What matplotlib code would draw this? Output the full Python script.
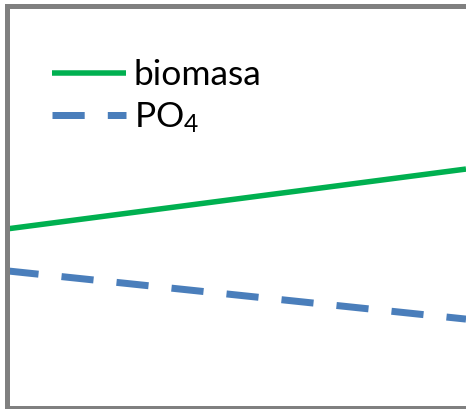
import numpy as np
import matplotlib.pyplot as plt

plt.rcParams['font.family'] = ['Lato', 'DejaVu Sans']
plt.rcParams['mathtext.default'] = 'regular'

# data
x = [0, 1]
biomasa = [44.5, 59.4]
po4 = [34.1, 22.1]

W, H = 466, 409
fig = plt.figure(figsize=(W / 100, H / 100), dpi=100)
extra = 30
aw = W - 6.5 + extra
ax = fig.add_axes([6.5 / W, (H - 408) / H, aw / W, (408 - 5.7) / H])

lw_g = 5.5 * 72 / 100
lw_b = 7 * 72 / 100
ax.plot(x, biomasa, color='#00B050', lw=lw_g, solid_capstyle='butt', label='biomasa')
ax.plot(x, po4, color='#4A7EBB', lw=lw_b, linestyle=(0, (4.6, 3.3)),
        dash_capstyle='butt', label='PO$_4$')

ax.set_xlim(0, 1 + extra / (W - 6.5))
ax.set_ylim(0, 100)
ax.set_xticks([])
ax.set_yticks([])

# frame: left spine, top and bottom edges stop at the picture edge
for s in ['top', 'bottom', 'right']:
    ax.spines[s].set_visible(False)
ax.spines['left'].set_color('#808080')
ax.spines['left'].set_linewidth(5 * 72 / 100)
x_end = (W - 6.5) / aw
for yy in (0, 1):
    ax.plot([0, x_end], [yy, yy], transform=ax.transAxes, color='#808080',
            lw=5 * 72 / 100, clip_on=False, solid_capstyle='butt')

fs = 25.5
fpx = fs * 100 / 72
leg = ax.legend(loc='upper left', bbox_to_anchor=(52 / W, 1 - 59 / H), bbox_transform=fig.transFigure,
                frameon=False, fontsize=fs, handlelength=74 / fpx, handletextpad=8 / fpx,
                labelspacing=0.26, borderaxespad=0, borderpad=0)

fig.savefig('out.png', dpi=100)
